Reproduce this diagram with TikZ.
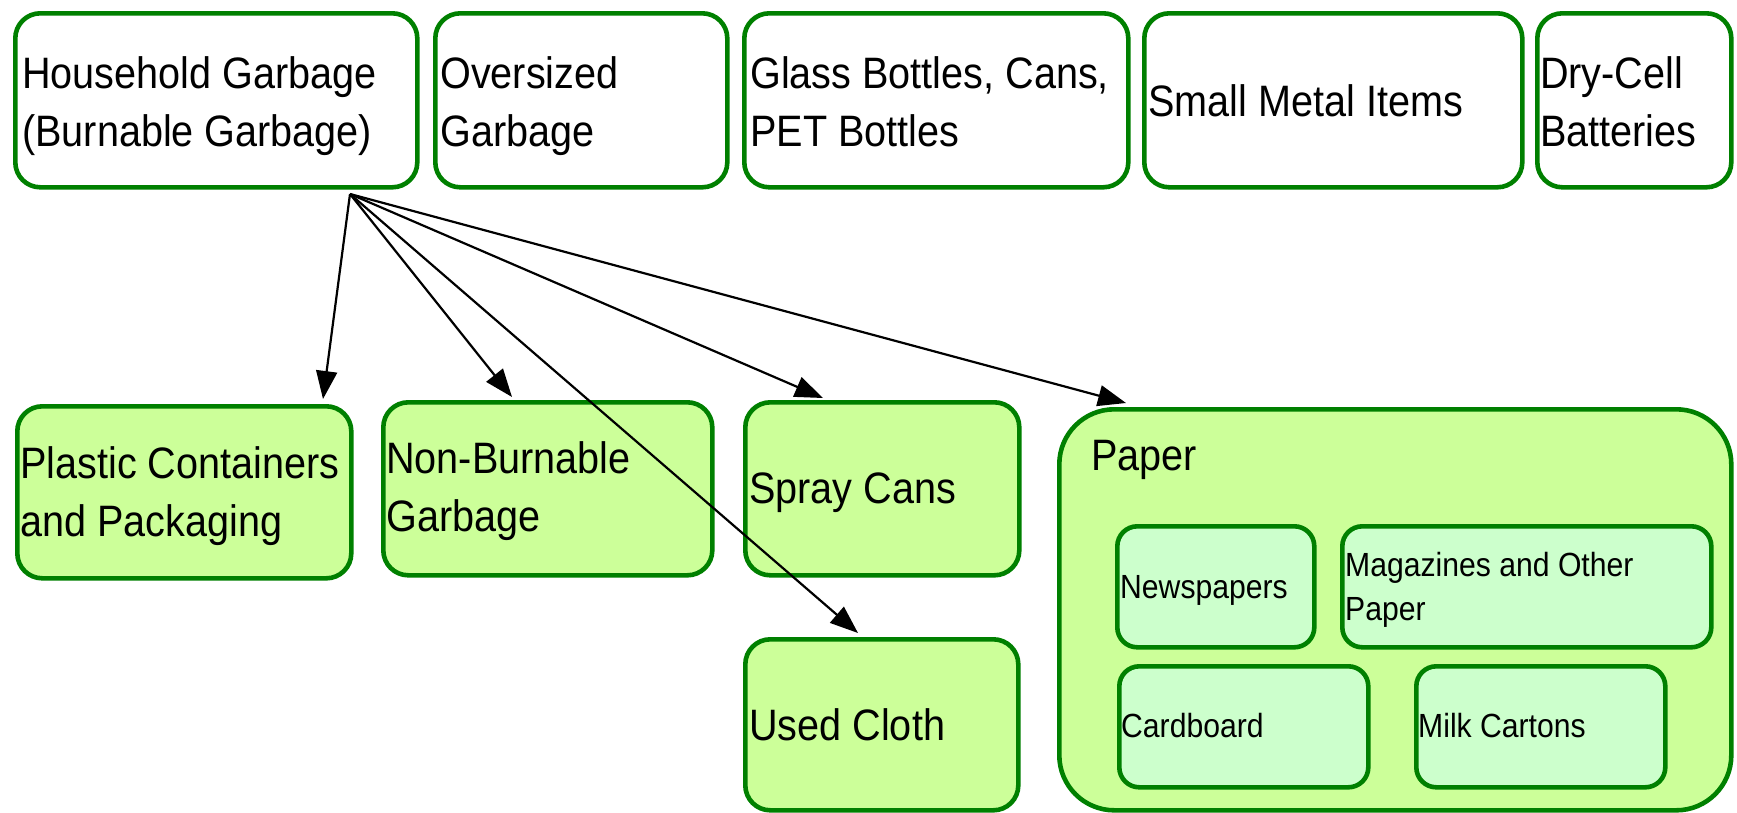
\documentclass[tikz,border=0pt]{standalone}
\usepackage{fontspec}
\setmainfont{Liberation Sans}[FakeStretch=0.9]
\usetikzlibrary{arrows.meta}
\definecolor{gborder}{RGB}{0,128,0}
\definecolor{gfill}{HTML}{CCFF99}
\definecolor{ginner}{HTML}{CCFFCC}
\newcommand\twolines[2]{\begin{tabular}[t]{@{}l@{}}#1\\#2\end{tabular}}
\tikzset{
  boxbase/.style={draw=gborder, line width=4.6pt, rectangle, inner sep=0pt, anchor=north west},
  topbox/.style={boxbase, fill=white, rounded corners=25pt, minimum height=174pt},
  catbox/.style={boxbase, fill=gfill, rounded corners=25pt},
  paperbox/.style={boxbase, fill=gfill, rounded corners=55pt},
  innerbox/.style={boxbase, fill=ginner, rounded corners=20pt},
  bigtext/.style={font=\fontsize{44}{58}\selectfont, inner sep=0pt, anchor=base west},
  smalltext/.style={font=\fontsize{33.5}{44}\selectfont, inner sep=0pt, anchor=base west},
  conn/.style={line width=2.2pt, draw=black, -{Triangle[length=28pt,width=21pt]}}
}
\begin{document}
\begin{tikzpicture}[x=1pt,y=-1pt]
\useasboundingbox (0,0) rectangle (1737,812);
% top row
\node[topbox, minimum width=402pt] (house) at (13,11) {};
\node[topbox, minimum width=292pt] (oversized) at (433,11) {};
\node[topbox, minimum width=384pt] (glass) at (742,11) {};
\node[topbox, minimum width=378pt] (metal) at (1142,11) {};
\node[topbox, minimum width=194pt] (battery) at (1535,11) {};
% second row
\node[catbox, minimum width=334pt, minimum height=172pt] (plastic) at (15,404) {};
\node[catbox, minimum width=329pt, minimum height=173pt] (nonburn) at (381,400) {};
\node[catbox, minimum width=274pt, minimum height=173pt] (spray) at (743,400) {};
\node[catbox, minimum width=273pt, minimum height=171pt] (cloth) at (743,637) {};
\node[paperbox, minimum width=672pt, minimum height=401pt] (paper) at (1057,407) {};
\node[innerbox, minimum width=197pt, minimum height=121pt] (news) at (1115,524) {};
\node[innerbox, minimum width=369pt, minimum height=121pt] (mag) at (1340,524) {};
\node[innerbox, minimum width=249pt, minimum height=121pt] (card) at (1117,664) {};
\node[innerbox, minimum width=249pt, minimum height=121pt] (milk) at (1414,664) {};
% texts
\node[bigtext] (thouse) at (22,88) {\twolines{Household Garbage}{(Burnable Garbage)}};
\node[bigtext] (tover) at (440,88) {\twolines{Oversized}{Garbage}};
\node[bigtext] (tglass) at (750,88) {\twolines{Glass Bottles, Cans,}{PET Bottles}};
\node[bigtext] (tmetal) at (1148,116) {Small Metal Items};
\node[bigtext] (tbatt) at (1540,88) {\twolines{Dry-Cell}{Batteries}};
\node[bigtext] (tplastic) at (20,478) {\twolines{Plastic Containers}{and Packaging}};
\node[bigtext] (tnonburn) at (386,473) {\twolines{Non-Burnable}{Garbage}};
\node[bigtext] (tspray) at (749,503) {Spray Cans};
\node[bigtext] (tcloth) at (749,740) {Used Cloth};
\node[bigtext] (tpaper) at (1091,470) {Paper};
\node[smalltext] (tnews) at (1120,598) {Newspapers};
\node[smalltext] (tmag) at (1345,576) {\twolines{Magazines and Other}{Paper}};
\node[smalltext] (tcard) at (1121,737) {Cardboard};
\node[smalltext] (tmilk) at (1418,737) {Milk Cartons};
% connectors
\coordinate (src) at (350,194);
\draw[conn] (src) -- ([xshift=308pt,yshift=5pt]plastic.north west);
\draw[conn] (src) -- ([xshift=131pt,yshift=3pt]nonburn.north west);
\draw[conn] (src) -- ([xshift=115pt,yshift=4pt]cloth.north west);
\draw[conn] (src) -- ([xshift=80pt,yshift=2pt]spray.north west);
\draw[conn] (src) -- ([xshift=69pt,yshift=4pt]paper.north west);
\end{tikzpicture}
\end{document}
